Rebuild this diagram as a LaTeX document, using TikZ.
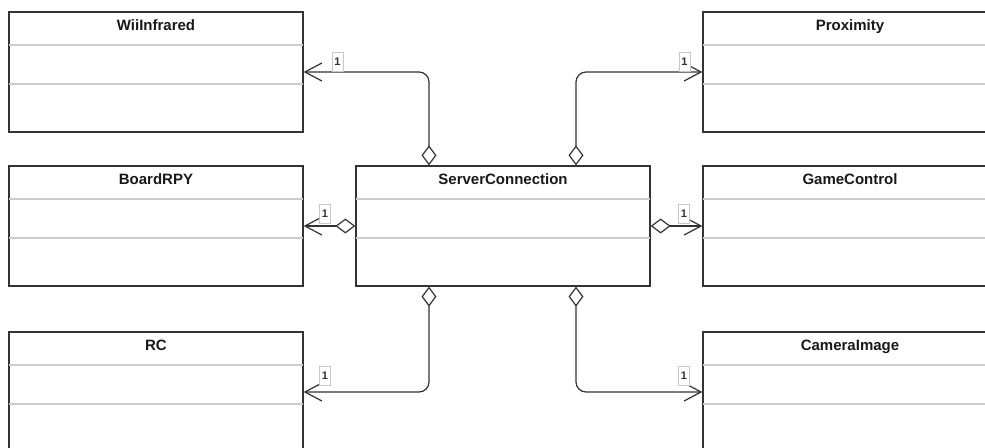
\documentclass[tikz,border=0pt]{standalone}
\usepackage{fontspec}
\setmainfont{Liberation Sans}
\usetikzlibrary{arrows.meta}
\definecolor{edge}{HTML}{333333}
\definecolor{sepline}{HTML}{CCCCCC}
\definecolor{multbox}{HTML}{C8C8C8}
\begin{document}
\begin{tikzpicture}[x=1pt,y=-1pt,
  cls/.style={draw=edge, line width=1.3pt, fill=white, rectangle,
    minimum width=294pt, minimum height=120pt, inner sep=0pt},
  title/.style={font=\fontsize{15}{18}\selectfont\bfseries, text=black!90, anchor=base},
  sep/.style={draw=sepline, line width=2pt},
  assoc/.style={draw=edge, line width=1.2pt, rounded corners=10pt,
    {Diamond[open, fill=white, length=20pt, width=15pt]}-{Straight Barb[length=17pt, width=18pt, line width=1.2pt]}},
  mult/.style={draw=multbox, line width=0.6pt, fill=white, inner sep=0pt,
    minimum width=11pt, minimum height=19pt, font=\fontsize{11}{13}\selectfont\bfseries, text=black!80}
]
\useasboundingbox (0,0) rectangle (985,447);
\fill[white] (0,0) rectangle (985,447);

% class boxes: name, centre, title
\foreach \n/\cx/\cy/\t in {wii/156/72/WiiInfrared, board/156/226/BoardRPY, rc/156/392/RC,
    srv/503/226/ServerConnection, prox/850/72/Proximity, game/850/226/GameControl,
    cam/850/392/CameraImage}{
  \node[cls] (\n) at (\cx,\cy) {};
  \draw[sep] ([yshift=-34pt,xshift=0.7pt]\n.north west) -- ([yshift=-34pt,xshift=-0.7pt]\n.north east);
  \draw[sep] ([yshift=-73pt,xshift=0.7pt]\n.north west) -- ([yshift=-73pt,xshift=-0.7pt]\n.north east);
  \node[title] (\n-title) at ([yshift=-19pt]\n.north) {\t};
}

% aggregations from ServerConnection
\draw[assoc] ([xshift=-74pt]srv.north) |- (wii.east);
\draw[assoc] ([xshift=73pt]srv.north) |- (prox.west);
\draw[assoc] (srv.west) -- (board.east);
\draw[assoc] (srv.east) -- (game.west);
\draw[assoc] ([xshift=-74pt]srv.south) |- (rc.east);
\draw[assoc] ([xshift=73pt]srv.south) |- (cam.west);

% multiplicities
\node[mult] (m-wii) at (337.5,61.5) {1};
\node[mult] (m-board) at (325,213.5) {1};
\node[mult] (m-rc) at (325,375.5) {1};
\node[mult] (m-prox) at (684.5,61.5) {1};
\node[mult] (m-game) at (684,213.5) {1};
\node[mult] (m-cam) at (684,375.5) {1};
\end{tikzpicture}
\end{document}
